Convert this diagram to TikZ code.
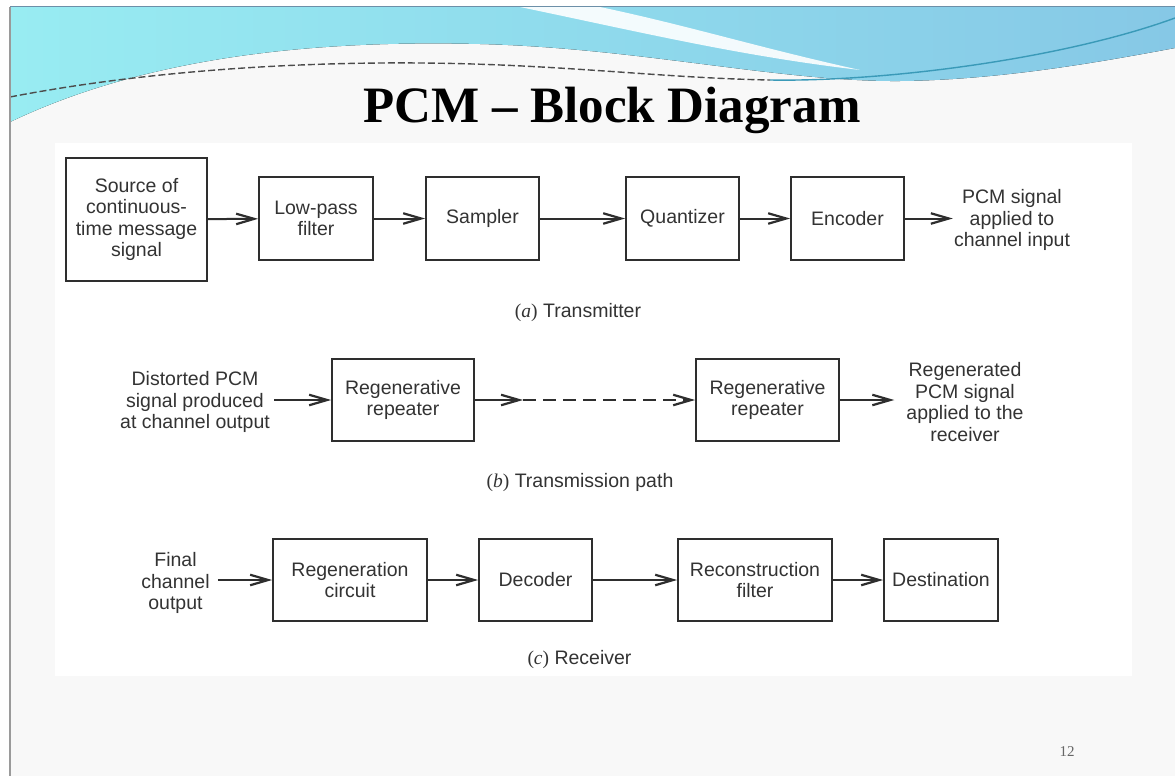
\documentclass[tikz,border=0pt]{standalone}
\usepackage{fontspec}
\setmainfont{Liberation Sans}
\newfontfamily\serif{Liberation Serif}
\usetikzlibrary{arrows.meta}
\definecolor{ink}{HTML}{2E2E2E}
\definecolor{txt}{HTML}{333333}
\definecolor{slidebg}{HTML}{F8F8F8}
\definecolor{cyanA}{HTML}{98ECF2}
\definecolor{cyanB}{HTML}{86C8E6}
\definecolor{frame}{HTML}{9A9A9A}
\definecolor{topline}{HTML}{6C8FA8}
\definecolor{wave}{HTML}{3A9AB8}

\tikzset{
  block/.style={draw=ink, line width=1.8pt, fill=white, text=txt,
    font=\fontsize{19.5}{21.5}\selectfont, align=center, inner sep=0pt},
  lbl/.style={text=txt, font=\fontsize{19.5}{21.5}\selectfont, align=center, inner sep=0pt},
  captext/.style={text=txt, font=\fontsize{19.5}{21.5}\selectfont, inner sep=0pt},
  flowtip/.tip={Straight Barb[length=18pt,width=10.5pt,line width=2.2pt]},
  flow/.style={draw=ink, line width=2pt, -flowtip},
}

\begin{document}
\begin{tikzpicture}[x=1pt,y=-1pt]
\useasboundingbox (0,0) rectangle (1175,776);

% slide background and frame
\fill[white] (0,0) rectangle (1175,776);
\fill[slidebg] (10,7) rectangle (1175,776);

% header wave
\fill[left color=cyanA, right color=cyanB]
  (10,7) -- (1175,7) -- (1175,48)
  .. controls (1100,62) and (1000,80) .. (900,81)
  .. controls (780,82) and (640,48) .. (480,44)
  .. controls (320,40) and (150,55) .. (10,122) -- cycle;
\fill[white, opacity=0.9]
  (520,7) .. controls (640,32) and (740,56) .. (860,70)
  .. controls (760,48) and (690,26) .. (600,7) -- cycle;
\draw[gray!60!black, line width=1.4pt, dash pattern=on 7pt off 3pt]
  (10,97) .. controls (150,70) and (300,62) .. (420,63)
  .. controls (560,64) and (660,78) .. (770,80);
\draw[wave, line width=1.4pt]
  (770,80) .. controls (880,82) and (1060,60) .. (1175,18);

\draw[topline, line width=1pt] (10,7) -- (1175,7);
\draw[frame, line width=1.5pt] (10,7) -- (10,776);

% content panel
\fill[white] (55,143) rectangle (1132,676);

% title
\node[anchor=base, text=black, font=\serif\bfseries\fontsize{51}{51}\selectfont]
  (title) at (612,122) {PCM – Block Diagram};

% (a) transmitter
\node[block, minimum width=141pt, minimum height=123pt] (src) at (136.5,219.5)
  {Source of\\continuous-\\time message\\signal};
\node[block, minimum width=114pt, minimum height=83pt] (lpf) at (316,218.5) {Low-pass\\filter};
\node[block, minimum width=113pt, minimum height=83pt] (smp) at (482.5,218.5) {Sampler};
\node[block, minimum width=113pt, minimum height=83pt] (qnt) at (682.5,218.5) {Quantizer};
\node[block, minimum width=113pt, minimum height=83pt] (enc) at (847.5,218.5) {Encoder};
\node[lbl, inner xsep=1pt] (outa) at (1012,220) {PCM signal\\applied to\\channel input};
\draw[flow] (src) -- (lpf);
\draw[flow] (lpf) -- (smp);
\draw[flow] (smp) -- (qnt);
\draw[flow] (qnt) -- (enc);
\draw[flow] (enc) -- (outa.west |- enc.east);
\node[captext] (capa) at (578,313) {{\serif(\textit{a})} Transmitter};

% (b) transmission path
\node[lbl, inner xsep=4pt] (inb) at (195,402) {Distorted PCM\\signal produced\\at channel output};
\node[block, minimum width=142pt, minimum height=82pt] (rep1) at (403,400) {Regenerative\\repeater};
\node[block, minimum width=143pt, minimum height=82pt] (rep2) at (767.5,400) {Regenerative\\repeater};
\node[lbl, inner xsep=12pt] (outb) at (965,402) {Regenerated\\PCM signal\\applied to the\\receiver};
\coordinate (gap) at (523,400);
\draw[flow] (inb.east |- rep1.west) -- (rep1);
\draw[flow] (rep1) -- (gap);
\draw[flow, dash pattern=on 13pt off 7pt] (gap) -- (rep2);
\draw[flow] (rep2) -- (outb.west |- rep2.east);
\node[captext] (capb) at (580,483) {{\serif(\textit{b})} Transmission path};

% (c) receiver
\node[lbl, inner xsep=8pt] (inc) at (175.5,583) {Final\\channel\\output};
\node[block, minimum width=154pt, minimum height=82pt] (rgc) at (350,580) {Regeneration\\circuit};
\node[block, minimum width=113pt, minimum height=82pt] (dec) at (535.5,580) {Decoder};
\node[block, minimum width=154pt, minimum height=82pt] (rcf) at (755,580) {Reconstruction\\filter};
\node[block, minimum width=114pt, minimum height=82pt] (dst) at (941,580) {Destination};
\draw[flow] (inc.east |- rgc.west) -- (rgc);
\draw[flow] (rgc) -- (dec);
\draw[flow] (dec) -- (rcf);
\draw[flow] (rcf) -- (dst);
\node[captext] (capc) at (579.5,660) {{\serif(\textit{c})} Receiver};

% slide number
\node[text=gray!80!black, font=\serif\fontsize{15}{15}\selectfont] (pg) at (1067,752) {12};
\end{tikzpicture}
\end{document}
